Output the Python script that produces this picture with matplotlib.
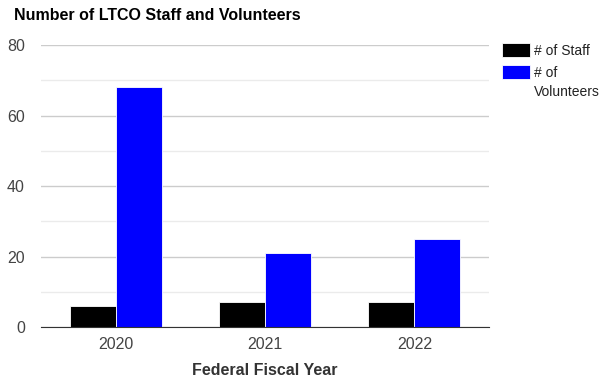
import numpy as np
import matplotlib
matplotlib.use("Agg")
import matplotlib.pyplot as plt

plt.rcParams['font.family'] = ['Liberation Sans', 'DejaVu Sans']

years = ["2020", "2021", "2022"]
staff = [6, 7, 7]
volunteers = [68, 21, 25]
series_names = ["# of Staff", "# of"]
wrapped_tail = "Volunteers"

fig = plt.figure(figsize=(5.99, 3.83), dpi=100)
ax = fig.add_axes([0.0684, 0.146, 0.748, 0.7365])

x = np.arange(len(years))
w = 0.308
b1 = ax.bar(x - w / 2, staff, w, color="black", edgecolor="white", linewidth=0.6, zorder=3)
b2 = ax.bar(x + w / 2, volunteers, w, color="#0000ff", edgecolor="white", linewidth=0.6, zorder=3)

ax.set_xlim(-0.5, 2.5)
ax.set_ylim(0, 80)
ax.set_yticks([0, 20, 40, 60, 80])
ax.set_yticks([10, 30, 50, 70], minor=True)
ax.grid(axis="y", which="major", color="#cccccc", linewidth=1, zorder=0)
ax.grid(axis="y", which="minor", color="#ebebeb", linewidth=1, zorder=0)
ax.set_xticks(x)
ax.set_xticklabels(years)

for s in ["top", "right", "left"]:
    ax.spines[s].set_visible(False)
ax.spines["bottom"].set_color("#333333")
ax.spines["bottom"].set_zorder(4)
ax.tick_params(axis="both", which="both", length=0, labelsize=11.5, colors="#444444")
ax.tick_params(axis="x", pad=7)
ax.tick_params(axis="y", pad=11.5)

ax.set_xlabel("Federal Fiscal Year", fontsize=11.5, fontweight="bold", color="#333333", labelpad=8)
fig.text(14 / 599, 1 - 15 / 383, "Number of LTCO Staff and Volunteers", fontsize=11.5,
         fontweight="bold", color="#000000", va="center", ha="left")

leg = fig.legend([b1, b2], series_names, loc="upper left", bbox_to_anchor=(502 / 599, 1 - 43 / 383),
                 frameon=False, fontsize=10, handlelength=2.0, handleheight=1.15,
                 handletextpad=0.3, labelspacing=0.55, borderaxespad=0, borderpad=0,
                 labelcolor="#222222")

# second line of the wrapped volunteers label, under "# of"
fig.canvas.draw()
bb = leg.get_texts()[1].get_window_extent().transformed(fig.transFigure.inverted())
fig.text(bb.x0, bb.y0 - 19 / 383, wrapped_tail, fontsize=10, color="#222222",
         ha="left", va="bottom")

fig.savefig("out.png", dpi=100)
